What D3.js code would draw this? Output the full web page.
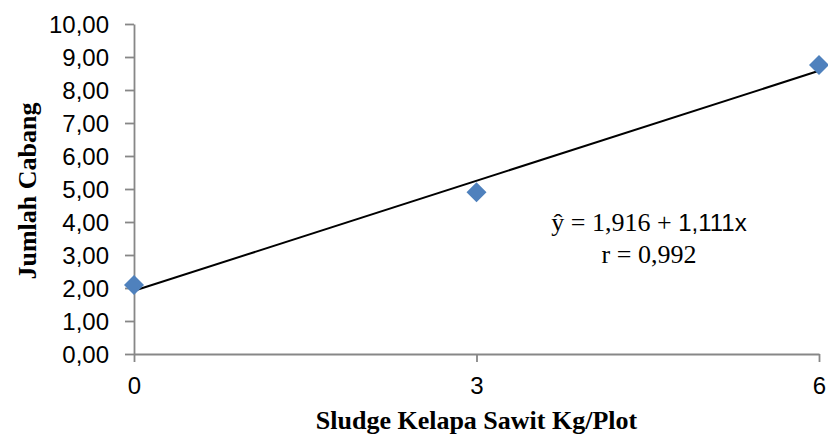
<!DOCTYPE html>
<html>
<head>
<meta charset="utf-8">
<script src="https://cdn.jsdelivr.net/npm/d3@7/dist/d3.min.js"></script>
<style>
  html, body { margin: 0; padding: 0; background: #fff; }
  svg { display: block; }
</style>
</head>
<body>
<svg id="chart" width="828" height="443"></svg>
<script>
// Dose of oil-palm sludge (kg per plot) and the observed number of branches
const doses = [0, 3, 6];
const branches = [2.09, 4.90, 8.76];

// Fitted regression: y = a + b x
const intercept = 1.916;
const slope = 1.111;
const rValue = "0,992";

const yTicks = [0, 1, 2, 3, 4, 5, 6, 7, 8, 9, 10];
const xTicks = [0, 3, 6];

const xTitle = "Sludge Kelapa Sawit Kg/Plot";
const yTitle = "Jumlah Cabang";

const W = 828, H = 443;
const margin = { left: 134, right: 9, top: 24, bottom: 89 };

const svg = d3.select("#chart");

const x = d3.scaleLinear().domain([0, 6]).range([margin.left, W - margin.right]);
const y = d3.scaleLinear().domain([0, 10]).range([H - margin.bottom, margin.top]);

const fmt = v => d3.format(".2f")(v).replace(".", ",");
const axisColor = "#878787";
const tickFont = "'Liberation Sans', Arial, sans-serif";
const serif = "'Liberation Serif', 'Times New Roman', serif";

// Y axis
const yAxis = svg.append("g")
  .attr("transform", `translate(${margin.left},0)`)
  .call(d3.axisLeft(y).tickValues(yTicks).tickFormat(fmt).tickSize(9).tickSizeOuter(0).tickPadding(16));
yAxis.select(".domain").attr("stroke", axisColor).attr("stroke-width", 1.8);
yAxis.selectAll(".tick line").attr("stroke", axisColor).attr("stroke-width", 1.8);
yAxis.selectAll(".tick text")
  .attr("font-family", tickFont).attr("font-size", 24).attr("fill", "#000")
  .attr("dy", "0.36em");

// X axis
const xAxis = svg.append("g")
  .attr("transform", `translate(0,${y(0)})`)
  .call(d3.axisBottom(x).tickValues(xTicks).tickFormat(d3.format("d")).tickSize(8).tickSizeOuter(0).tickPadding(15));
xAxis.select(".domain").attr("stroke", axisColor).attr("stroke-width", 1.8);
xAxis.selectAll(".tick line").attr("stroke", axisColor).attr("stroke-width", 1.8);
xAxis.selectAll(".tick text")
  .attr("font-family", tickFont).attr("font-size", 24).attr("fill", "#000");

// Regression line
const fitX = d3.extent(doses);
svg.append("line")
  .attr("x1", x(fitX[0])).attr("y1", y(intercept + slope * fitX[0]))
  .attr("x2", x(fitX[1])).attr("y2", y(intercept + slope * fitX[1]))
  .attr("stroke", "#000").attr("stroke-width", 2);

// Observed points as diamonds
const half = 10;
svg.append("g").selectAll("path")
  .data(doses.map((d, i) => [d, branches[i]]))
  .join("path")
  .attr("d", d => {
    const cx = x(d[0]), cy = y(d[1]);
    return `M${cx},${cy - half}L${cx + half},${cy}L${cx},${cy + half}L${cx - half},${cy}Z`;
  })
  .attr("fill", "#4F81BD");

// Equation and correlation
const eqX = 649;
const eq = svg.append("text")
  .attr("x", eqX).attr("y", 231)
  .attr("text-anchor", "middle")
  .attr("font-family", serif).attr("font-size", 26).attr("fill", "#000");
eq.append("tspan").text(`ŷ = ${d3.format(".3f")(intercept).replace(".", ",")} + `);
eq.append("tspan").attr("font-family", tickFont).attr("font-size", 24)
  .text(`${d3.format(".3f")(slope).replace(".", ",")}x`);

svg.append("text")
  .attr("x", eqX).attr("y", 263)
  .attr("text-anchor", "middle")
  .attr("font-family", serif).attr("font-size", 26).attr("fill", "#000")
  .text(`r = ${rValue}`);

// Axis titles
svg.append("text")
  .attr("x", x(3)).attr("y", 429)
  .attr("text-anchor", "middle")
  .attr("font-family", serif).attr("font-size", 26).attr("font-weight", "bold")
  .text(xTitle);

svg.append("text")
  .attr("transform", `translate(36,${(y(0) + y(10)) / 2 + 2}) rotate(-90)`)
  .attr("text-anchor", "middle")
  .attr("font-family", serif).attr("font-size", 26).attr("font-weight", "bold")
  .text(yTitle);
</script>
</body>
</html>
